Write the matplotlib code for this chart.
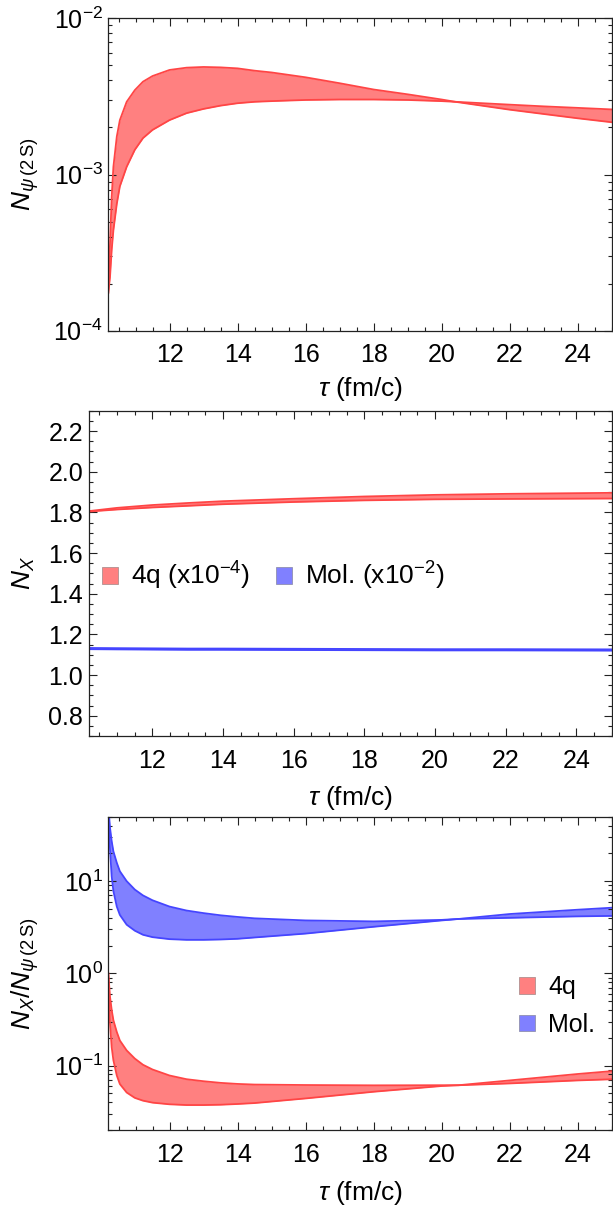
import numpy as np
import matplotlib
matplotlib.use('Agg')
import matplotlib.pyplot as plt
from matplotlib.patches import Patch
from matplotlib.ticker import LogLocator, MultipleLocator, NullFormatter, FuncFormatter

plt.rcParams['font.family'] = ['Liberation Sans', 'DejaVu Sans']
plt.rcParams['mathtext.fontset'] = 'custom'
plt.rcParams['mathtext.rm'] = 'Liberation Sans'
plt.rcParams['mathtext.it'] = 'Liberation Sans:italic'
plt.rcParams['mathtext.bf'] = 'Liberation Sans:bold'

# ---- psi(2S) yield, two parameter sets bounding the band
tau_psi = [10.2, 10.25, 10.30, 10.35, 10.45, 10.54, 10.74, 10.98, 11.22, 11.5,
           12.0, 12.5, 13.0, 13.5, 14.0, 14.5, 15.0, 16.0, 17.0, 18.0, 19.0,
           20.0, 20.4, 22.0, 23.0, 24.0, 25.0]
psi_a = [1.75e-4, 3.6e-4, 7.2e-4, 1.12e-3, 1.75e-3, 2.23e-3, 2.92e-3, 3.47e-3,
         3.93e-3, 4.27e-3, 4.67e-3, 4.83e-3, 4.88e-3, 4.85e-3, 4.78e-3, 4.62e-3,
         4.50e-3, 4.19e-3, 3.84e-3, 3.50e-3, 3.26e-3, 3.02e-3, 2.92e-3, 2.60e-3,
         2.44e-3, 2.29e-3, 2.16e-3]
psi_b = [1.75e-4, 2.2e-4, 3.3e-4, 4.4e-4, 6.5e-4, 8.4e-4, 1.12e-3, 1.44e-3,
         1.71e-3, 1.93e-3, 2.23e-3, 2.47e-3, 2.63e-3, 2.76e-3, 2.86e-3, 2.92e-3,
         2.95e-3, 3.00e-3, 3.02e-3, 3.02e-3, 3.00e-3, 2.95e-3, 2.92e-3, 2.80e-3,
         2.73e-3, 2.67e-3, 2.61e-3]

# ---- X(3872) yield (scaled)
tau_x = [10.2, 11, 12, 13, 14, 16, 18, 20, 22, 25]
nx_4q_hi = [1.806, 1.822, 1.836, 1.846, 1.855, 1.867, 1.878, 1.886, 1.891, 1.896]
nx_4q_lo = [1.804, 1.814, 1.824, 1.832, 1.840, 1.851, 1.859, 1.864, 1.866, 1.868]
nx_mol_hi = [1.133, 1.132, 1.131, 1.130, 1.130, 1.129, 1.128, 1.127, 1.127, 1.126]
nx_mol_lo = [1.127, 1.126, 1.125, 1.124, 1.124, 1.123, 1.122, 1.121, 1.121, 1.120]

# ---- yield ratio N_X / N_psi(2S)
tau_r = [10.2, 10.25, 10.30, 10.35, 10.45, 10.54, 10.74, 10.98, 11.22, 11.5,
         12.0, 12.5, 13.0, 13.5, 14.0, 14.5, 16.0, 18.0, 20.0, 20.5, 22.0, 24.0, 25.0]
mol_a = [65, 38, 27, 21, 15.8, 12.8, 10.0, 8.1, 7.0, 6.2, 5.3, 4.8, 4.5, 4.26,
         4.09, 3.95, 3.75, 3.66, 3.80, 3.89, 4.0, 4.15, 4.2]
mol_b = [65, 22, 11.3, 7.8, 5.3, 4.3, 3.37, 2.9, 2.62, 2.47, 2.35, 2.31, 2.31,
         2.33, 2.37, 2.45, 2.70, 3.2, 3.75, 3.89, 4.4, 4.9, 5.15]
q4_a = [1.0, 0.557, 0.40, 0.31, 0.231, 0.187, 0.146, 0.119, 0.102, 0.0906,
        0.078, 0.0711, 0.0676, 0.0649, 0.0632, 0.0622, 0.0615, 0.061, 0.0612,
        0.0612, 0.064, 0.069, 0.071]
q4_b = [1.0, 0.285, 0.158, 0.114, 0.078, 0.063, 0.051, 0.0446, 0.0416, 0.0396,
        0.038, 0.0373, 0.0373, 0.0376, 0.0383, 0.0392, 0.044, 0.052, 0.060,
        0.0612, 0.069, 0.081, 0.087]

RED_FILL, RED_EDGE = '#ff8080', '#ff4545'
BLUE_FILL, BLUE_EDGE = '#8080ff', '#4545ff'
TICK_FS = 18
LABEL_FS = 19
W, H = 613.0, 1211.0


def band(ax, x, lo, hi, fill, edge):
    ax.fill_between(x, lo, hi, color=fill, lw=0)
    ax.plot(x, lo, color=edge, lw=1.3)
    ax.plot(x, hi, color=edge, lw=1.3)


def frame(ax):
    ax.set_xlim(10.2, 25)
    ax.xaxis.set_major_locator(MultipleLocator(2))
    ax.xaxis.set_minor_locator(MultipleLocator(0.5))
    ax.tick_params(which='both', direction='in', top=True, right=True,
                   color='#222222', width=0.8)
    ax.tick_params(which='major', length=5.5, labelsize=TICK_FS)
    ax.tick_params(axis='x', which='major', pad=9)
    ax.tick_params(axis='y', which='major', pad=4)
    ax.tick_params(which='minor', length=3)
    for s in ax.spines.values():
        s.set_linewidth(0.9)
        s.set_color('#222222')
    ax.set_xlabel(r'$\tau$ (fm/c)', fontsize=LABEL_FS)
    ax.xaxis.label.set_va('center')
    ax.yaxis.label.set_va('center')


def log_frame(ax):
    ax.yaxis.set_major_locator(LogLocator(base=10, numticks=10))
    ax.yaxis.set_minor_locator(LogLocator(base=10, subs=np.arange(2, 10), numticks=20))
    ax.yaxis.set_minor_formatter(NullFormatter())
    ax.yaxis.set_major_formatter(FuncFormatter(
        lambda v, p: r'$10^{%d}$' % int(round(np.log10(v)))))


def rect(left, top, right, bottom):
    return [left / W, 1 - bottom / H, (right - left) / W, (bottom - top) / H]


fig = plt.figure(figsize=(6.13, 12.11), dpi=100)

# top: psi(2S)
ax1 = fig.add_axes(rect(108.3, 18.3, 611.8, 330.7))
band(ax1, tau_psi, psi_b, psi_a, RED_FILL, RED_EDGE)
ax1.set_yscale('log')
ax1.set_ylim(1e-4, 1e-2)
log_frame(ax1)
frame(ax1)
ax1.set_ylabel(r'$N_{\psi\,(2\,\mathrm{S})}$', fontsize=LABEL_FS)
ax1.yaxis.set_label_coords(-0.165, 0.5)
ax1.xaxis.set_label_coords(0.5, -0.186)

# middle: N_X
ax2 = fig.add_axes(rect(88.7, 410.7, 611.8, 736.0))
band(ax2, tau_x, nx_4q_lo, nx_4q_hi, RED_FILL, RED_EDGE)
band(ax2, tau_x, nx_mol_lo, nx_mol_hi, BLUE_FILL, BLUE_EDGE)
ax2.set_ylim(0.7, 2.3)
ax2.yaxis.set_major_locator(MultipleLocator(0.2))
ax2.yaxis.set_minor_locator(MultipleLocator(0.05))
ax2.yaxis.set_major_formatter(FuncFormatter(lambda v, p: '%.1f' % v))
frame(ax2)
ax2.set_ylabel(r'$N_X$', fontsize=LABEL_FS)
ax2.yaxis.set_label_coords(-0.123, 0.5)
ax2.xaxis.set_label_coords(0.5, -0.1915)
h2 = [Patch(facecolor=RED_FILL, edgecolor='#b09090', lw=0.6),
      Patch(facecolor=BLUE_FILL, edgecolor='#9090b0', lw=0.6)]
ax2.legend(h2, [r'4q (x10$^{-4}$)', r'Mol. (x10$^{-2}$)'], loc='center left',
           bbox_to_anchor=(0.025, 0.492), ncol=2, frameon=False,
           fontsize=19, handlelength=0.62, handleheight=0.62,
           handletextpad=0.5, columnspacing=0.95, borderaxespad=0, borderpad=0)

# bottom: ratio
ax3 = fig.add_axes(rect(108.3, 816.7, 611.8, 1130.0))
band(ax3, tau_r, mol_b, mol_a, BLUE_FILL, BLUE_EDGE)
band(ax3, tau_r, q4_b, q4_a, RED_FILL, RED_EDGE)
ax3.set_yscale('log')
ax3.set_ylim(0.02, 50)
log_frame(ax3)
frame(ax3)
ax3.set_ylabel(r'$N_X/N_{\psi\,(2\,\mathrm{S})}$', fontsize=LABEL_FS)
ax3.yaxis.set_label_coords(-0.165, 0.5)
ax3.xaxis.set_label_coords(0.5, -0.201)
h3 = [Patch(facecolor=RED_FILL, edgecolor='#b09090', lw=0.6),
      Patch(facecolor=BLUE_FILL, edgecolor='#9090b0', lw=0.6)]
ax3.legend(h3, ['4q', 'Mol.'], loc='center left', bbox_to_anchor=(0.816, 0.396),
           frameon=False, fontsize=18, handlelength=0.65, handleheight=0.65,
           handletextpad=0.52, labelspacing=0.55, borderaxespad=0, borderpad=0)

fig.savefig('out.png', dpi=100)
